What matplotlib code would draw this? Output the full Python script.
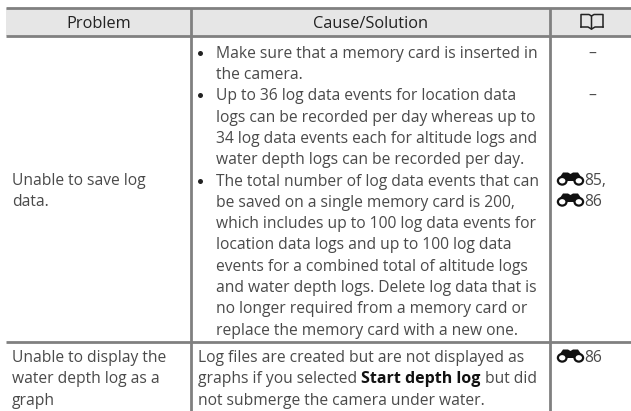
import matplotlib
matplotlib.use("Agg")
import matplotlib.pyplot as plt
from matplotlib.patches import Rectangle, Ellipse, Polygon

# Table contents
headers = ["Problem", "Cause/Solution"]
problem_1 = ["Unable to save log", "data."]
problem_2 = ["Unable to display the", "water depth log as a", "graph"]
bullet_1 = ["Make sure that a memory card is inserted in", "the camera."]
bullet_2 = ["Up to 36 log data events for location data",
            "logs can be recorded per day whereas up to",
            "34 log data events each for altitude logs and",
            "water depth logs can be recorded per day."]
bullet_3 = ["The total number of log data events that can",
            "be saved on a single memory card is 200,",
            "which includes up to 100 log data events for",
            "location data logs and up to 100 log data",
            "events for a combined total of altitude logs",
            "and water depth logs. Delete log data that is",
            "no longer required from a memory card or",
            "replace the memory card with a new one."]
cause_2 = [[("Log files are created but are not displayed as", "normal")],
           [("graphs if you selected", "normal"), ("Start depth log", "bold"), ("but did", "normal")],
           [("not submerge the camera under water.", "normal")]]

plt.rcParams['font.family'] = ['Open Sans', 'DejaVu Sans']
FS = 11.25
TXT = '#4a4a4a'
LINE = '#808080'
LH = 21.3

fig = plt.figure(figsize=(6.31, 4.11), dpi=100)
ax = fig.add_axes([0, 0, 1, 1])
ax.set_xlim(0, 631)
ax.set_ylim(411, 0)
ax.axis('off')

# header band and rules
ax.add_patch(Rectangle((6, 8), 625, 28, color='#e6e6e6', lw=0))
for yy in [8.3, 36, 342.2]:
    ax.plot([6, 631], [yy, yy], color=LINE, lw=2, solid_capstyle='butt')
for xx in [191.4, 550.3]:
    ax.plot([xx, xx], [8, 411], color=LINE, lw=2, solid_capstyle='butt')


def put(x, y, s, **kw):
    return ax.text(x, y, s, fontsize=FS, color=TXT, va='center_baseline', **kw)


ax.text(98.5, 22, headers[0], fontsize=11.8, color='#222222', ha='center', va='center_baseline')
ax.text(370.5, 22, headers[1], fontsize=11.8, color='#222222', ha='center', va='center_baseline')

# book icon in the header
ax.plot([581, 581, 589, 591.5, 591.5], [27, 14.5, 14.5, 16, 29], color='#222222', lw=1.1)
ax.plot([603, 603, 594, 591.5], [27, 14.5, 14.5, 16], color='#222222', lw=1.1)
ax.plot([581, 588, 591.5, 595, 603], [27, 27, 29, 27, 27], color='#222222', lw=1.1)

# left column
for i, s in enumerate(problem_1):
    put(12, 179 + i * LH, s)
for i, s in enumerate(problem_2):
    put(12, 356 + i * LH, s)

# bullets in the middle column
y = 51.7
for block in [bullet_1, bullet_2, bullet_3]:
    ax.plot([200], [y + 1], 'o', color='#222222', ms=3.6, mew=0)
    for s in block:
        put(216, y, s)
        y += LH

# last row with the bold run
fig.canvas.draw()
rend = fig.canvas.get_renderer()
for i, parts in enumerate(cause_2):
    x = 197.5
    for s, w in parts:
        if w == "bold":
            t = ax.text(x, 356 + i * LH, s, fontsize=11.55, color='#111111', fontweight=w,
                        va='center_baseline')
        else:
            t = put(x, 356 + i * LH, s)
        x = t.get_window_extent(rend).x1 + 4.5


def binoculars(x, y):
    # y is the centre of the text line next to the icon
    ax.add_patch(Polygon([[x + 1.5, y], [x + 6, y - 6.5], [x + 11, y - 6.5], [x + 13.5, y - 5],
                          [x + 16, y - 6.5], [x + 21, y - 6.5], [x + 25.5, y],
                          [x + 20, y + 2], [x + 7, y + 2]], color='#111111', lw=0))
    for cx in [x + 5.2, x + 21.8]:
        ax.add_patch(Ellipse((cx, y + 1.8), 8.6, 7.6, fc='white', ec='#111111', lw=1.6))


# page reference column
ax.text(592.5, 51.7, "–", fontsize=FS, color=TXT, ha='center', va='center_baseline')
ax.text(592.5, 94, "–", fontsize=FS, color=TXT, ha='center', va='center_baseline')
for yy, label in [(179, "85,"), (200, "86"), (356, "86")]:
    binoculars(557, yy)
    put(584, yy, label)

fig.savefig("out.png", dpi=100)
